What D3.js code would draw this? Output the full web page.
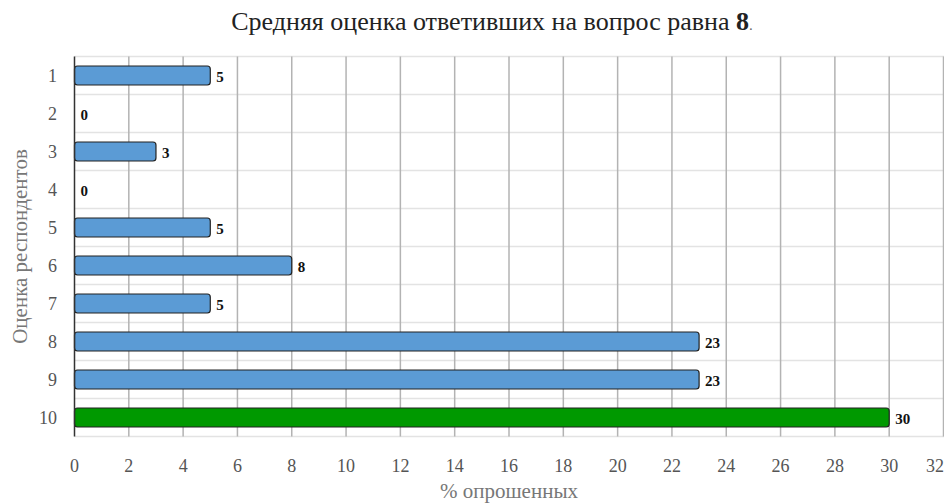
<!DOCTYPE html>
<html>
<head>
<meta charset="utf-8">
<script src="https://cdn.jsdelivr.net/npm/d3@7"></script>
<style>
  html, body { margin: 0; padding: 0; background: #fff; }
  svg { display: block; font-family: "Liberation Serif", "DejaVu Serif", serif; }
</style>
</head>
<body>
<svg id="chart" width="944" height="504"></svg>
<script>
// Rating categories and share of respondents (%)
const categories = ["1", "2", "3", "4", "5", "6", "7", "8", "9", "10"];
const values = [5, 0, 3, 0, 5, 8, 5, 23, 23, 30];
const barColors = ["#5b9bd5", "#5b9bd5", "#5b9bd5", "#5b9bd5", "#5b9bd5", "#5b9bd5", "#5b9bd5", "#5b9bd5", "#5b9bd5", "#009900"];
const xTicks = [0, 2, 4, 6, 8, 10, 12, 14, 16, 18, 20, 22, 24, 26, 28, 30, 32];
const titleText = "Средняя оценка ответивших на вопрос равна ";
const averageValue = "8";
const yTitle = "Оценка респондентов";
const xTitle = "% опрошенных";

const svg = d3.select("#chart");
const margin = { left: 74.5, right: 0, top: 56.5, bottom: 67.5 };
const W = 944, H = 504;

const x = d3.scaleLinear().domain([0, 32]).range([margin.left, W - 0.5]);
const y = d3.scaleBand().domain(categories).range([margin.top, H - margin.bottom]).paddingInner(0.5).paddingOuter(0.25);
const band = d3.scaleBand().domain(categories).range([margin.top, H - margin.bottom]);

// horizontal light grid at band boundaries
const hLines = band.domain().map(c => band(c)).concat([H - margin.bottom]);
svg.append("g").selectAll("line").data(hLines).join("line")
  .attr("x1", margin.left).attr("x2", W)
  .attr("y1", d => d).attr("y2", d => d)
  .attr("stroke", "#e3e3e3").attr("stroke-width", 1.5);

// vertical grid
svg.append("g").selectAll("line").data(xTicks.filter(t => t > 0)).join("line")
  .attr("x1", d => x(d)).attr("x2", d => x(d))
  .attr("y1", margin.top).attr("y2", H - margin.bottom)
  .attr("stroke", "#b3b3b3").attr("stroke-width", 1.5);

// bars
svg.append("g").selectAll("rect").data(values).join("rect")
  .attr("x", x(0))
  .attr("y", (d, i) => y(categories[i]))
  .attr("width", d => Math.max(0, x(d) - x(0)))
  .attr("height", y.bandwidth())
  .attr("rx", 3)
  .attr("fill", (d, i) => barColors[i])
  .attr("stroke", "#222")
  .attr("stroke-width", 1.2)
  .attr("display", d => d > 0 ? null : "none");

// value labels
svg.append("g").selectAll("text").data(values).join("text")
  .attr("x", d => x(d) + 6)
  .attr("y", (d, i) => y(categories[i]) + y.bandwidth() / 2)
  .attr("dy", "0.4em")
  .attr("font-size", 15).attr("font-weight", "bold").attr("fill", "#111")
  .text(d => d);

// left axis line
svg.append("line")
  .attr("x1", margin.left).attr("x2", margin.left)
  .attr("y1", margin.top).attr("y2", H - margin.bottom)
  .attr("stroke", "#333").attr("stroke-width", 1.5);

// y tick labels
svg.append("g").selectAll("text").data(categories).join("text")
  .attr("x", 57)
  .attr("y", d => band(d) + band.bandwidth() / 2)
  .attr("dy", "0.35em")
  .attr("text-anchor", "end")
  .attr("font-size", 18).attr("fill", "#555")
  .text(d => d);

// x tick labels (the last one is kept inside the right edge)
svg.append("g").selectAll("text").data(xTicks).join("text")
  .attr("x", d => Math.min(x(d), W - 9))
  .attr("y", 472)
  .attr("text-anchor", "middle")
  .attr("font-size", 18).attr("fill", "#555")
  .text(d => d);

// axis titles
svg.append("text")
  .attr("transform", `translate(27,${(margin.top + H - margin.bottom) / 2}) rotate(-90)`)
  .attr("text-anchor", "middle")
  .attr("font-size", 21).attr("fill", "#777")
  .text(yTitle);

svg.append("text")
  .attr("x", 509).attr("y", 498)
  .attr("text-anchor", "middle")
  .attr("font-size", 21).attr("fill", "#777")
  .text(xTitle);

// title
const title = svg.append("text")
  .attr("x", 492).attr("y", 30)
  .attr("text-anchor", "middle")
  .attr("font-size", 26).attr("fill", "#222");
title.append("tspan").text(titleText);
title.append("tspan").attr("font-weight", "bold").text(averageValue);
title.append("tspan").attr("font-size", 15).attr("fill", "#666").text(".");
</script>
</body>
</html>
